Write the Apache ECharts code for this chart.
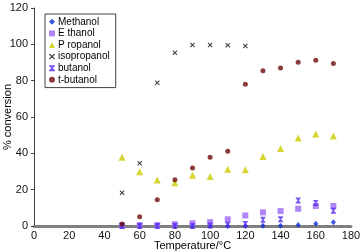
<!DOCTYPE html>
<html><head><meta charset="utf-8">
<script src="https://cdn.jsdelivr.net/npm/echarts@6/dist/echarts.min.js"></script>
<style>html,body{margin:0;padding:0;background:#fff}#c{width:360px;height:252px}</style>
</head><body><div id="c"></div>
<script>
const temperatures = [50, 60, 70, 80, 90, 100, 110, 120, 130, 140, 150, 160, 170];
const methanol    = [0, 0, 0, 0, 0, 0, 0, 0, 0.2, 0.2, 0.6, 1.3, 2.1];
const ethanol     = [0.3, 0.5, 0.5, 1.0, 1.5, 2.1, 3.7, 5.8, 7.5, 8.2, 9.5, 11.0, 11.0];
const propanol    = [37.9, 29.8, 25.3, 23.8, 27.9, 27.3, 31.2, 30.9, 38.3, 42.7, 48.5, 50.7, 49.5];
const isoTemps    = [50, 60, 70, 80, 90, 100, 110, 120];
const isopropanol = [18.3, 34.5, 78.8, 95.4, 99.6, 99.6, 99.5, 99.1];
const butanol     = [0, 0, 0, 0, 0, 0.3, 0.7, 1.1, 3.4, 3.7, 14.1, 12.7, 8.4];
const tbutanol    = [1.1, 5.1, 14.5, 25.4, 31.9, 37.9, 41.2, 78.0, 85.5, 87.0, 90.1, 91.2, 89.4];
const xTicks = [0, 20, 40, 60, 80, 100, 120, 140, 160, 180];
const yTicks = [0, 20, 40, 60, 80, 100, 120];

const pairs = (xs, ys) => xs.map((x, i) => [x, ys[i]]);
const crossPath = 'path://M0,1.5L1.5,0L5,3.5L8.5,0L10,1.5L6.5,5L10,8.5L8.5,10L5,6.5L1.5,10L0,8.5L3.5,5Z';
const hourPath = 'path://M0,0H10V1.5L6.2,5L10,8.5V10H0V8.5L3.8,5L0,1.5Z';
const font = 'Liberation Sans, Arial, sans-serif';

const series = [
  {name: 'Methanol', data: pairs(temperatures, methanol), symbol: 'diamond', symbolSize: [5, 6], color: '#0a2ad6'},
  {name: 'E thanol', data: pairs(temperatures, ethanol), symbol: 'rect', symbolSize: 6, color: '#9b66f5'},
  {name: 'P ropanol', data: pairs(temperatures, propanol), symbol: 'triangle', symbolSize: [7, 7], color: '#cccc00'},
  {name: 'isopropanol', data: pairs(isoTemps, isopropanol), symbol: crossPath, symbolSize: 5, color: '#111111'},
  {name: 'butanol', data: pairs(temperatures, butanol), symbol: hourPath, symbolSize: [5, 6], color: '#5a2cf0'},
  {name: 't-butanol', data: pairs(temperatures, tbutanol), symbol: 'circle', symbolSize: 5, color: '#6e0a0a'}
].map(s => Object.assign({type: 'scatter', itemStyle: {color: s.color}}, s));

const chart = echarts.init(document.getElementById('c'), null, {renderer: 'canvas'});
chart.setOption({
  animation: false,
  backgroundColor: '#fff',
  grid: {left: 34, right: 9, top: 8, bottom: 26, containLabel: false, outerBoundsMode: 'none'},
  xAxis: {
    type: 'value', min: xTicks[0], max: xTicks[xTicks.length - 1], interval: 20,
    name: 'Temperature/°C', nameLocation: 'middle', nameGap: 14, nameMoveOverlap: false,
    nameTextStyle: {fontFamily: font, fontSize: 11, color: '#000'},
    axisLine: {show: true, lineStyle: {color: '#808080', width: 3}},
    axisTick: {show: false},
    splitLine: {show: false},
    axisLabel: {fontFamily: font, fontSize: 11, color: '#111', margin: 4}
  },
  yAxis: {
    type: 'value', min: yTicks[0], max: yTicks[yTicks.length - 1], interval: 20,
    name: '% conversion', nameLocation: 'middle', nameGap: 21, nameMoveOverlap: false,
    nameTextStyle: {fontFamily: font, fontSize: 11, color: '#000'},
    axisLine: {show: true, lineStyle: {color: '#404040', width: 1}},
    axisTick: {show: true, length: 3, lineStyle: {color: '#404040'}},
    splitLine: {show: false},
    axisLabel: {fontFamily: font, fontSize: 11, color: '#111', margin: 6}
  },
  legend: {
    orient: 'vertical', left: 45, top: 14,
    borderColor: '#404040', borderWidth: 1, padding: [2, 6, 2, 4],
    itemWidth: 6, itemHeight: 6, itemGap: 0,
    textStyle: {fontFamily: font, fontSize: 10, color: '#000', lineHeight: 11.6, padding: [0, 0, 0, -2]},
    data: series.map(s => s.name)
  },
  series: series
});
</script></body></html>
